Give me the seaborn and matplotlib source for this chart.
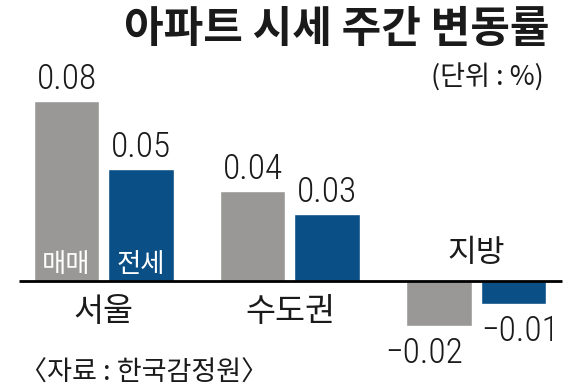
import matplotlib
matplotlib.use('Agg')
import matplotlib.pyplot as plt
import seaborn as sns
import pandas as pd

# 아파트 시세 주간 변동률 (단위 : %)
regions = ['서울', '수도권', '지방']
sale_change = [0.08, 0.04, -0.02]
jeonse_change = [0.05, 0.03, -0.01]
types = ['매매', '전세']

GRAY = '#999896'
BLUE = '#0a4f85'
KR = ['Noto Sans CJK KR', 'DejaVu Sans']
NUM = ['Roboto Condensed', 'DejaVu Sans']

sns.set_theme(style='white')
plt.rcParams['font.family'] = KR
plt.rcParams['axes.unicode_minus'] = True

df = pd.DataFrame({
    'region': regions * 2,
    'change': sale_change + jeonse_change,
    'type': [types[0]] * len(regions) + [types[1]] * len(regions),
})

fig = plt.figure(figsize=(5.79, 3.90), dpi=100)
ax = fig.add_axes([0, 0, 1, 1])

sns.barplot(data=df, x='region', y='change', hue='type', order=regions,
            hue_order=types, palette=[GRAY, BLUE], saturation=1,
            width=0.8, gap=0.12, errorbar=None, legend=False, ax=ax)

ax.set_xlim(-0.557, 2.552)
ax.set_ylim(-0.0484, 0.1249)
ax.hlines(0, -0.455, 2.46, color='black', lw=2, zorder=3)
ax.axis('off')

# value labels
neg_dx = {-0.02: -10.8, -0.01: 5}
for cont, vals in zip(ax.containers, [sale_change, jeonse_change]):
    for bar, v in zip(cont, vals):
        cx = bar.get_x() + bar.get_width() / 2
        txt = f'{v:.2f}'.replace('-', '\u2212')
        if v >= 0:
            ax.annotate(txt, (cx, v), xytext=(0, 8.6), textcoords='offset points',
                        ha='center', va='baseline', fontsize=25.5, family=NUM,
                        fontweight='light', color='#1a1a1a')
        else:
            ax.annotate(txt, (cx, v), xytext=(neg_dx.get(v, 0), -7.5),
                        textcoords='offset points', ha='center', va='top',
                        fontsize=25.5, family=NUM, fontweight='light',
                        color='#1a1a1a')

# series names inside the 서울 bars
for cont, name in zip(ax.containers, types):
    bar = cont[0]
    cx = bar.get_x() + bar.get_width() / 2
    ax.annotate(name, (cx, 0), xytext=(0, 2.0), textcoords='offset points',
                ha='center', va='bottom', fontsize=19, color='white')

# region labels
for i, r in enumerate(regions):
    if sale_change[i] < 0:
        ax.annotate(r, (i, 0), xytext=(0, 20.5), textcoords='offset points',
                    ha='center', va='center', fontsize=22.5, color='#1a1a1a')
    else:
        ax.annotate(r, (i, 0), xytext=(0, -22.3), textcoords='offset points',
                    ha='center', va='center', fontsize=23.5, color='#1a1a1a')

fig.text(550 / 579, 1 - 29 / 390, '아파트 시세 주간 변동률', ha='right', va='center',
         fontsize=31, fontweight='bold', color='#1a1a1a')
fig.text(544 / 579, 1 - 77.5 / 390, '(단위 : %)', ha='right', va='center',
         fontsize=19.5, color='#1a1a1a')
fig.text(20 / 579, 1 - 373.5 / 390, '〈자료 : 한국감정원〉', ha='left', va='center',
         fontsize=19.5, color='#1a1a1a')

fig.savefig('out.png', dpi=100)
